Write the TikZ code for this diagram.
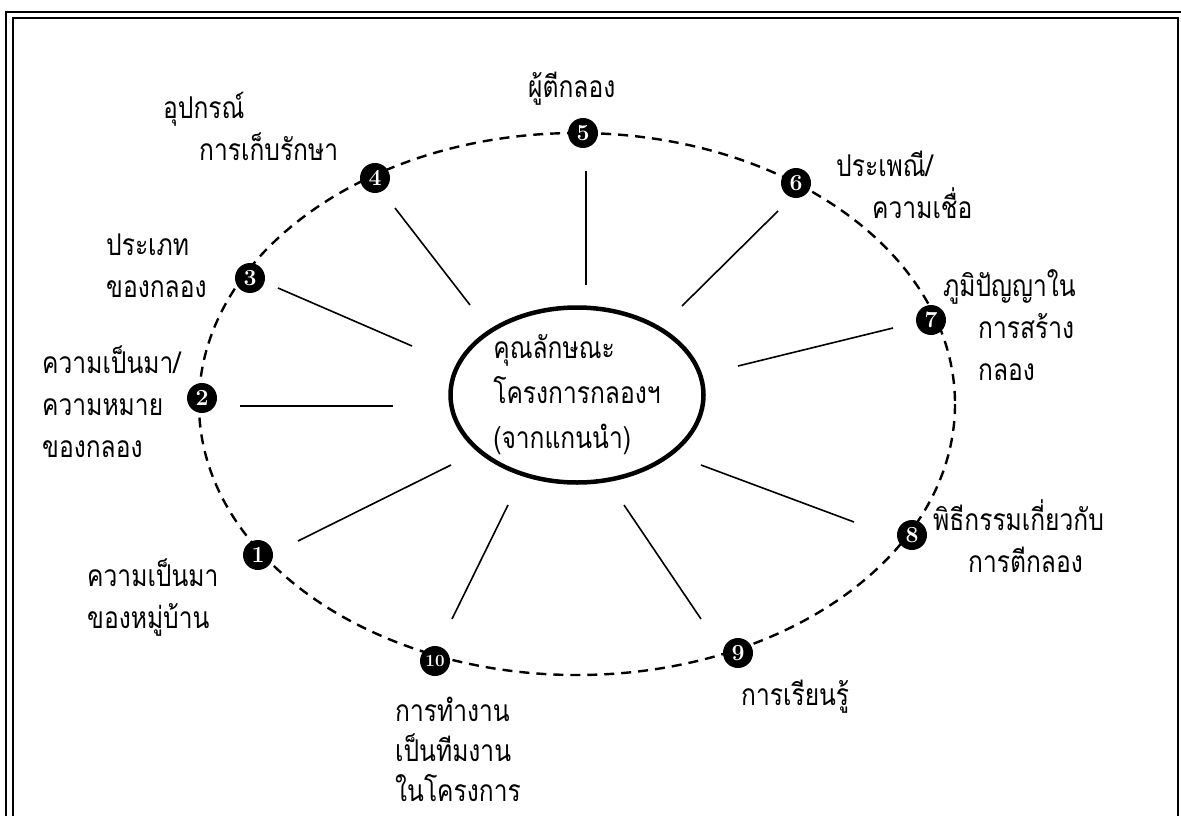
\documentclass[tikz,border=0pt]{standalone}
\usepackage{fontspec}
\usetikzlibrary{shapes.geometric}
\newfontfamily\thai[Script=Thai, FakeStretch=0.82]{Loma}
\begin{document}
\begin{tikzpicture}[x=1pt, y=-1pt,
    every node/.style={font=\thai\fontsize{30}{42}\selectfont, inner sep=0pt},
    etikett/.style={align=left, anchor=base west},
    nummer/.style={circle, fill=black, text=white, minimum size=30pt, font=\bfseries\fontsize{23}{23}\selectfont},
    strahl/.style={line width=1.6pt},
    kreis/.style={dash pattern=on 10pt off 7pt, line width=2.4pt}]
    \useasboundingbox (0,0) rectangle (1181,816);

    % Rahmen
    \draw[line width=2.4pt] (6,12) rectangle (1190,830);
    \draw[line width=1.2pt] (13,18) rectangle (1178,823);

    % Ellipsen
    \draw[kreis] (577,404) ellipse [x radius=378, y radius=271];
    \node (kern) [draw, ellipse, line width=4.5pt, minimum width=253pt, minimum height=175pt,
        align=left, font=\thai\fontsize{30}{45}\selectfont] at (577,395)
        {คุณลักษณะ\\โครงการกลองฯ\\(จากแกนนำ)};

    % Strahlen
    \foreach \n/\ax/\ay/\bx/\by in {1/298/541/451/465, 2/240/406/393/406, 3/278/288/412/346,
        4/395/208/470/305, 5/586/171/586/285, 6/778/211/682/306, 7/893/328/738/366,
        8/854/522/701/465, 9/701/619/624/505, 10/452/619/508/505}
    {
        \coordinate (a\n) at (\ax,\ay);
        \coordinate (b\n) at (\bx,\by);
        \draw[strahl] (a\n) -- (b\n);
    }

    % Nummern
    \node[nummer] (N1) at (258,555) {1};
    \node[nummer] (N2) at (202,398) {2};
    \node[nummer] (N3) at (250,278) {3};
    \node[nummer] (N4) at (375,178) {4};
    \node[nummer] (N5) at (583,133) {5};
    \node[nummer] (N6) at (796,183) {6};
    \node[nummer] (N7) at (931,320) {7};
    \node[nummer] (N8) at (912,535) {8};
    \node[nummer] (N9) at (738,653) {9};
    \node[nummer, font=\bfseries\fontsize{17}{17}\selectfont] (N10) at (435,661) {10};

    % Beschriftungen (Grundlinie der letzten Zeile)
    \node[etikett] (L1) at (87,628) {ความเป็นมา\\ของหมู่บ้าน};
    \node[etikett] (L2) at (42,457) {ความเป็นมา/\\ความหมาย\\ของกลอง};
    \node[etikett] (L3) at (106,297) {ประเภท\\ของกลอง};
    \node[etikett] (L4) at (163,160) {อุปกรณ์\\\hspace*{36pt}การเก็บรักษา};
    \node[etikett] (L5) at (528,98) {ผู้ตีกลอง};
    \node[etikett] (L6) at (836,218) {ประเพณี/\\\hspace*{36pt}ความเชื่อ};
    \node[etikett] (L7) at (943,380) {ภูมิปัญญาใน\\\hspace*{35pt}การสร้าง\\\hspace*{35pt}กลอง};
    \node[etikett] (L8) at (933,572) {พิธีกรรมเกี่ยวกับ\\\hspace*{35pt}การตีกลอง};
    \node[etikett] (L9) at (741,705) {การเรียนรู้};
    \node[etikett, font=\thai\fontsize{30}{40}\selectfont] (L10) at (395,801) {การทำงาน\\เป็นทีมงาน\\ในโครงการ};
\end{tikzpicture}
\end{document}
